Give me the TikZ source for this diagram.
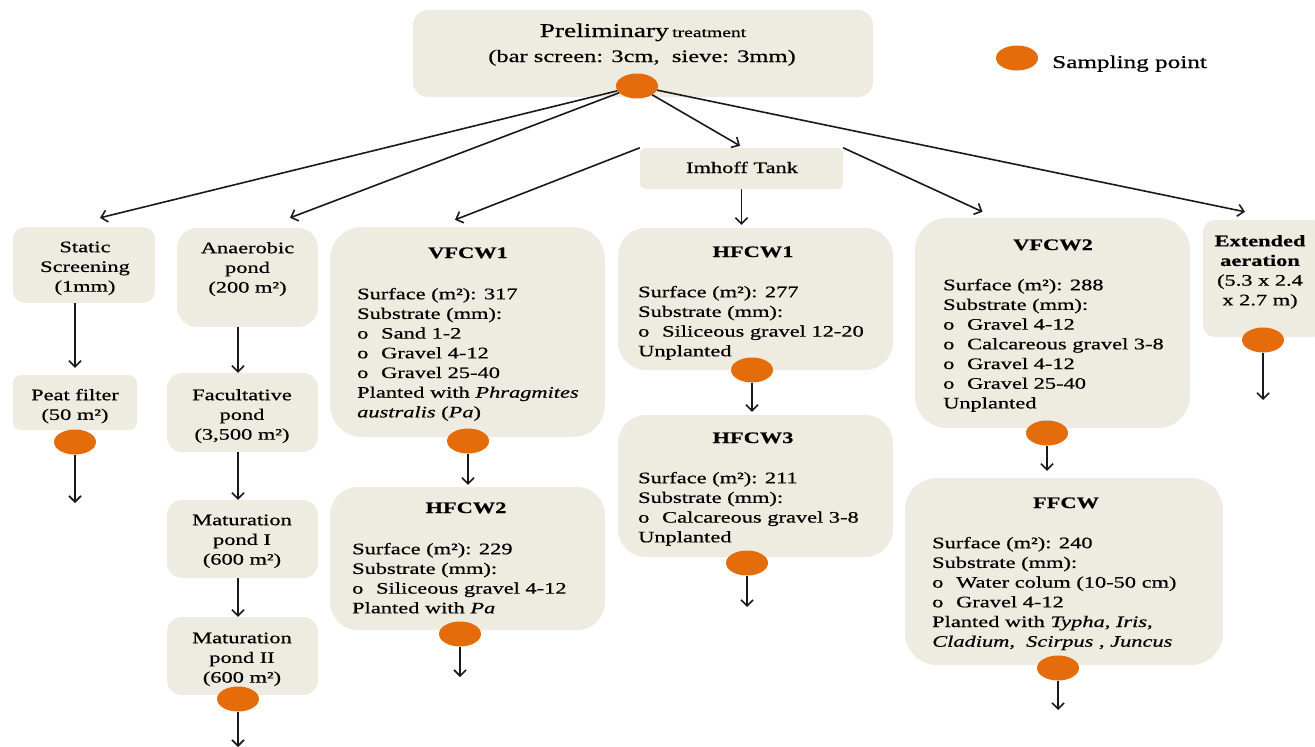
\documentclass[tikz,border=0pt]{standalone}
\usepackage{fontspec}
\setmainfont{Liberation Serif}[FakeStretch=1.4,FakeBold=0.6]
\usetikzlibrary{shapes.geometric,arrows.meta,calc}
\definecolor{boxfill}{HTML}{EEECE1}
\definecolor{samp}{HTML}{E46C0A}
\newcommand\tstrut{\rule{0pt}{12pt}}
\newcommand\bl{\makebox[24pt][l]{o}}
\tikzset{
  box/.style={fill=boxfill, draw=none, inner sep=0, rounded corners=#1},
  box/.default=12pt,
  sp/.style={ellipse, fill=samp, draw=none, inner sep=0, minimum width=42pt, minimum height=25pt},
  arr/.style={-{Straight Barb[length=6pt,width=12pt]}, line width=1.6pt, black!90},
  body/.style={anchor=north west, inner sep=0, align=left, font=\fontsize{16}{19.7}\selectfont},
  ctext/.style={anchor=north, inner sep=0, align=center, font=\fontsize{16}{19.7}\selectfont},
  ttl/.style={anchor=base, inner sep=0, font=\fontsize{16}{19.7}\selectfont\bfseries},
}
\begin{document}
\begin{tikzpicture}[x=1pt,y=-1pt]
\useasboundingbox (0,0) rectangle (1315,747);
% boxes
\node[box=15pt, minimum width=460pt, minimum height=87pt] (prelim) at (643,53.5) {};
\node[box=6pt, minimum width=203pt, minimum height=41pt] (imhoff) at (741.5,168.5) {};
\node[box=12pt, minimum width=142pt, minimum height=76pt] (static) at (84,265) {};
\node[box=8pt, minimum width=124pt, minimum height=55pt] (peat) at (75,402.5) {};
\node[box=20pt, minimum width=141pt, minimum height=99pt] (anaer) at (247.5,277.5) {};
\node[box=15pt, minimum width=151pt, minimum height=79pt] (facult) at (242.5,412.5) {};
\node[box=15pt, minimum width=151pt, minimum height=78pt] (mat1) at (242.5,539) {};
\node[box=15pt, minimum width=151pt, minimum height=78pt] (mat2) at (242.5,656) {};
\node[box=32pt, minimum width=275pt, minimum height=210pt] (vfcw1) at (467.5,332) {};
\node[box=28pt, minimum width=275pt, minimum height=143pt] (hfcw2) at (467.5,558.5) {};
\node[box=28pt, minimum width=275pt, minimum height=142pt] (hfcw1) at (755.5,299) {};
\node[box=28pt, minimum width=275pt, minimum height=142pt] (hfcw3) at (755.5,486) {};
\node[box=32pt, minimum width=275pt, minimum height=210pt] (vfcw2) at (1052.5,323) {};
\node[box=32pt, minimum width=318pt, minimum height=187pt] (ffcw) at (1064,571.5) {};
\node[box=12pt, minimum width=122pt, minimum height=117pt] (ext) at (1264,278.5) {};

% sampling points
\node[sp] (s0) at (637,86) {};
\node[sp] (sL) at (1017,58) {};
\node[sp] (sPeat) at (75,442) {};
\node[sp] (sMat2) at (238,699) {};
\node[sp] (sV1) at (468,441) {};
\node[sp] (sH2) at (460,634) {};
\node[sp] (sH1) at (752,370) {};
\node[sp] (sH3) at (747,563) {};
\node[sp] (sV2) at (1047,433) {};
\node[sp] (sF) at (1058,668) {};
\node[sp] (sE) at (1263,340) {};

% free ends
\coordinate (oPeat) at (75,503);
\coordinate (oMat2) at (238,747);
\coordinate (oH2) at (460,677);
\coordinate (oH3) at (747,607);
\coordinate (oF) at (1058,710);
\coordinate (oE) at (1263,400);

% texts
\node[anchor=base, inner sep=0] (tPre1) at (643,37) {{\fontsize{19.5}{22}\selectfont Preliminary} {\fontsize{14}{16}\selectfont treatment}};
\node[anchor=base, inner sep=0, font=\fontsize{17.5}{20}\selectfont] (tPre2) at (642,62) {(bar screen: 3cm,\ \ sieve: 3mm)};
\node[anchor=base west, inner sep=0, font=\fontsize{18}{20}\selectfont] (tLeg) at (1052,68) {Sampling point};
\node[anchor=base, inner sep=0, font=\fontsize{16}{19.7}\selectfont] (tImh) at (742,173) {Imhoff Tank};

\node[ctext] (tStatic) at (85,240) {\tstrut Static\\Screening\\(1mm)};
\node[ctext] (tPeat) at (75,388) {\tstrut Peat filter\\(50 m²)};
\node[ctext] (tAnaer) at (247.5,241) {\tstrut Anaerobic\\pond\\(200 m²)};
\node[ctext] (tFac) at (242,388) {\tstrut Facultative\\pond\\(3,500 m²)};
\node[ctext] (tMat1) at (242,513) {\tstrut Maturation\\pond I\\(600 m²)};
\node[ctext] (tMat2) at (242,631) {\tstrut Maturation\\pond II\\(600 m²)};
\node[ctext] (tExt) at (1260,234) {\tstrut\textbf{Extended}\\\textbf{aeration}\\(5.3 x 2.4\\x 2.7 m)};

\node[ttl] (hV1) at (468,258) {VFCW1};
\node[body] (bV1) at (357,287) {\tstrut Surface (m²): 317\\Substrate (mm):\\\bl Sand 1-2\\\bl Gravel 4-12\\\bl Gravel 25-40\\Planted with \textit{Phragmites}\\\textit{australis} (\textit{Pa})};

\node[ttl] (hH2) at (466,513) {HFCW2};
\node[body] (bH2) at (352,542) {\tstrut Surface (m²): 229\\Substrate (mm):\\\bl Siliceous gravel 4-12\\Planted with \textit{Pa}};

\node[ttl] (hH1) at (753,257) {HFCW1};
\node[body] (bH1) at (638,285) {\tstrut Surface (m²): 277\\Substrate (mm):\\\bl Siliceous gravel 12-20\\Unplanted};

\node[ttl] (hH3) at (753,443) {HFCW3};
\node[body] (bH3) at (638,471) {\tstrut Surface (m²): 211\\Substrate (mm):\\\bl Calcareous gravel 3-8\\Unplanted};

\node[ttl] (hV2) at (1053,250) {VFCW2};
\node[body] (bV2) at (943,278) {\tstrut Surface (m²): 288\\Substrate (mm):\\\bl Gravel 4-12\\\bl Calcareous gravel 3-8\\\bl Gravel 4-12\\\bl Gravel 25-40\\Unplanted};

\node[ttl] (hF) at (1066,508) {FFCW};
\node[body] (bF) at (932,536) {\tstrut Surface (m²): 240\\Substrate (mm):\\\bl Water colum (10-50 cm)\\\bl Gravel 4-12\\Planted with \textit{Typha, Iris,}\\\textit{Cladium,\ \ Scirpus , Juncus}};

% connectors from preliminary treatment
\draw[arr] (s0) -- ($(static.north)+(16,-9)$);
\draw[arr] (s0) -- ($(anaer.north)+(42.5,-10)$);
\draw[arr] (s0) -- ($(imhoff.north)+(-1.5,-2)$);
\draw[arr] (s0) -- ($(ext.north)+(-19,-8)$);
% from Imhoff tank
\draw[arr] (imhoff.north west) -- ($(vfcw1.north)+(-12.5,-7)$);
\draw[arr] (imhoff.north east) -- ($(vfcw2.north)+(-70,-6)$);
\draw[arr] (imhoff.south) -- ($(hfcw1.north -| imhoff.south)+(0,-3)$);
% vertical chains
\draw[arr] (static.south -| peat.north) -- ($(peat.north)+(0,-7)$);
\draw[arr] (sPeat) -- (oPeat);
\draw[arr] (anaer.south -| sMat2) -- (facult.north -| sMat2);
\draw[arr] (facult.south -| sMat2) -- (mat1.north -| sMat2);
\draw[arr] (mat1.south -| sMat2) -- (mat2.north -| sMat2);
\draw[arr] (sMat2) -- (oMat2);
\draw[arr] (sV1) -- ($(hfcw2.north -| sV1)+(0,-2)$);
\draw[arr] (sH2) -- (oH2);
\draw[arr] (sH1) -- ($(hfcw3.north -| sH1)+(0,-3)$);
\draw[arr] (sH3) -- (oH3);
\draw[arr] (sV2) -- ($(ffcw.north -| sV2)+(0,-7)$);
\draw[arr] (sF) -- (oF);
\draw[arr] (sE) -- (oE);
\end{tikzpicture}
\end{document}
